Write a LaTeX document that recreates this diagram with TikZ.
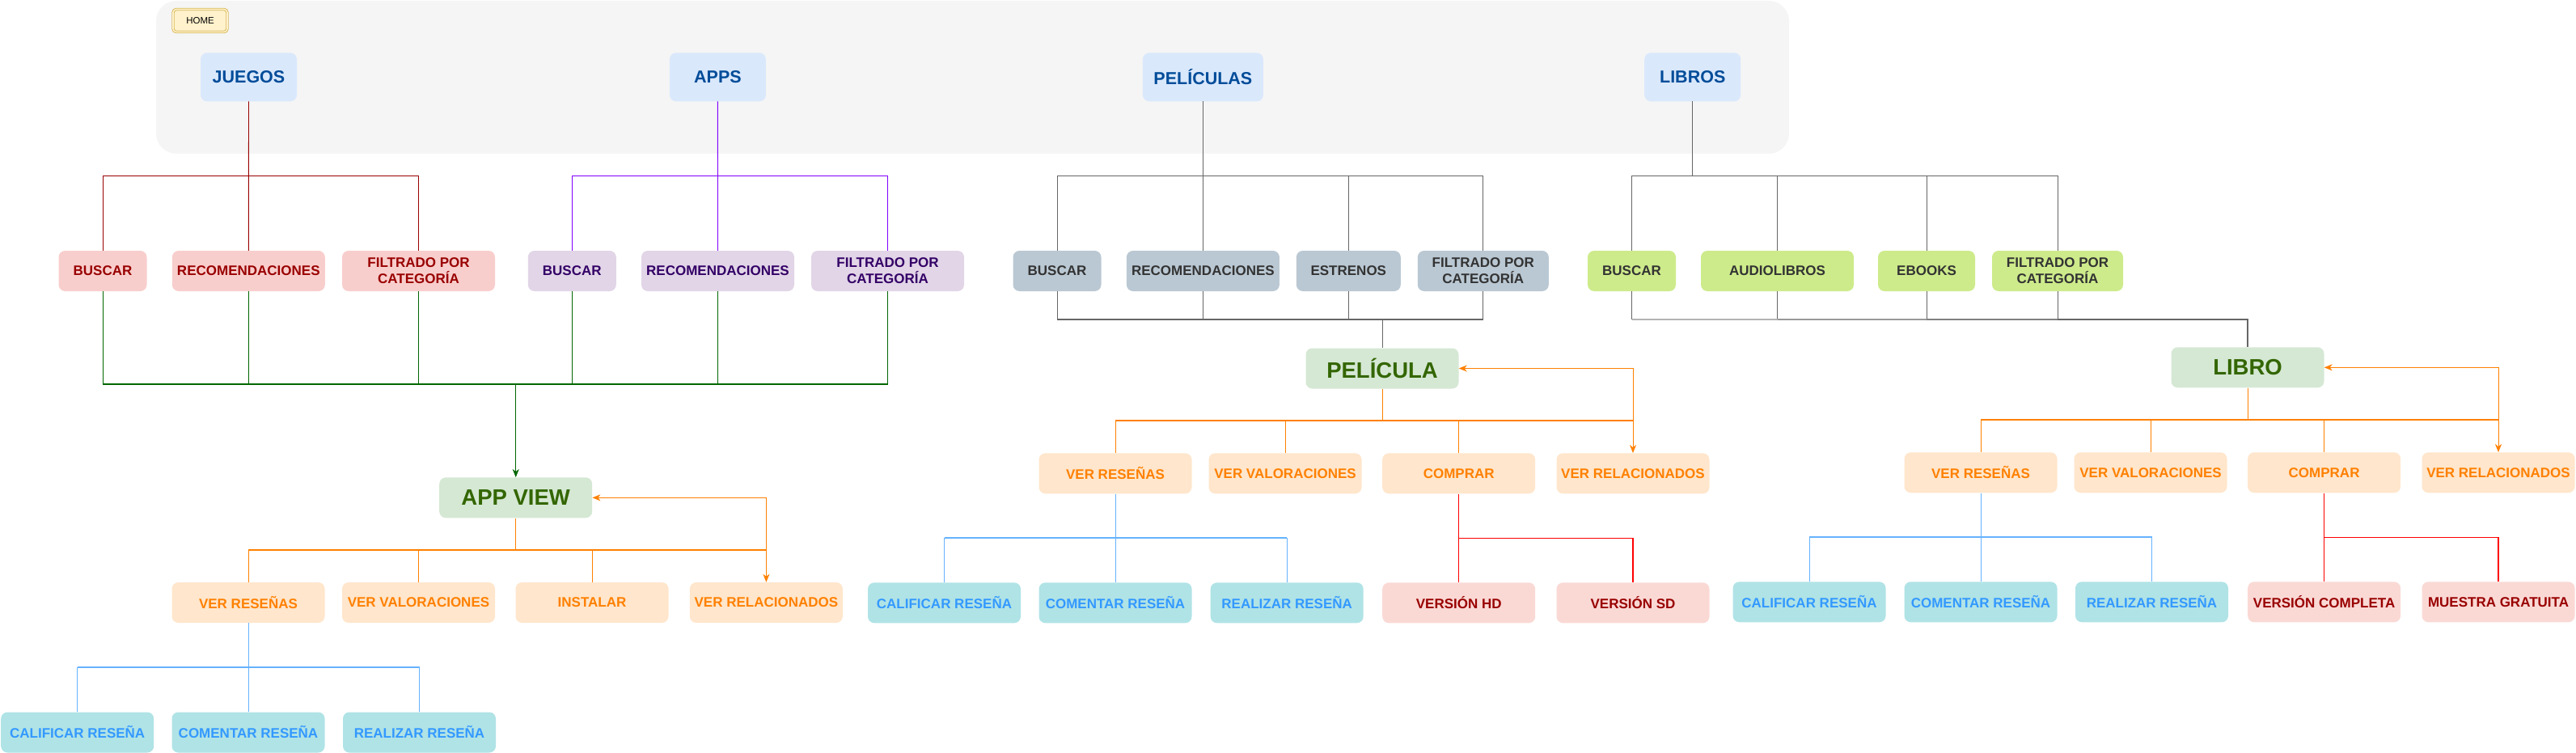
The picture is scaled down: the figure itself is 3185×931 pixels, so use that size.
\documentclass[tikz,border=0pt]{standalone}
\usepackage{fontspec}
\setmainfont{Liberation Sans}
\usetikzlibrary{arrows.meta}
\definecolor{panelF}{HTML}{F5F5F5}
\definecolor{homeF}{HTML}{FFF2CC}
\definecolor{homeD}{HTML}{D6B656}
\definecolor{topF}{HTML}{DAE8FC}
\definecolor{topT}{HTML}{004C99}
\definecolor{jF}{HTML}{F8CECC}
\definecolor{jT}{HTML}{990000}
\definecolor{jL}{HTML}{990000}
\definecolor{aF}{HTML}{E1D5E7}
\definecolor{aT}{HTML}{330066}
\definecolor{aL}{HTML}{7F00FF}
\definecolor{pF}{HTML}{BAC8D3}
\definecolor{pT}{HTML}{333333}
\definecolor{pL}{HTML}{666666}
\definecolor{lF}{HTML}{CDEB8B}
\definecolor{vF}{HTML}{D5E8D4}
\definecolor{vT}{HTML}{336600}
\definecolor{oF}{HTML}{FFE6CC}
\definecolor{oT}{HTML}{FF8000}
\definecolor{bF}{HTML}{B0E3E6}
\definecolor{bT}{HTML}{3399FF}
\definecolor{bL}{HTML}{66B2FF}
\definecolor{rF}{HTML}{FAD9D5}
\definecolor{rT}{HTML}{990000}
\definecolor{rL}{HTML}{FF0000}
\definecolor{gL}{HTML}{006600}
\definecolor{gray1}{HTML}{B3B3B3}
\definecolor{gray2}{HTML}{999999}
\definecolor{gray3}{HTML}{808080}
\begin{document}
\begin{tikzpicture}[x=1pt,y=-1pt,
  basebox/.style={rounded corners=8pt, inner sep=2pt, align=center, minimum width=189pt, minimum height=50pt,
    font=\bfseries\fontsize{17}{20}\selectfont},
  catbox/.style={basebox, fill=topF, text=topT, minimum width=119pt, minimum height=60pt,
    font=\bfseries\fontsize{21.5}{24}\selectfont},
  homebox/.style={rounded corners=4pt, draw=homeD, double=homeF, double distance=1.6pt, line width=0.9pt,
    fill=homeF, minimum width=67pt, minimum height=28pt, inner sep=1pt, font=\fontsize{11.5}{13}\selectfont},
  jbox/.style={basebox, fill=jF, text=jT},
  abox/.style={basebox, fill=aF, text=aT},
  pbox/.style={basebox, fill=pF, text=pT},
  lbox/.style={basebox, fill=lF, text=pT},
  viewbox/.style={basebox, fill=vF, text=vT, font=\bfseries\fontsize{27.5}{30}\selectfont},
  optbox/.style={basebox, fill=oF, text=oT},
  revbox/.style={basebox, fill=bF, text=bT},
  buybox/.style={basebox, fill=rF, text=rT},
  thinline/.style={line width=0.9pt},
  busw/.style={line width=1.8pt},
  jl/.style={thinline, draw=jL},
  al/.style={thinline, draw=aL},
  pl/.style={thinline, draw=pL},
  gl/.style={thinline, draw=gL},
  ol/.style={thinline, draw=oT},
  bl/.style={thinline, draw=bL},
  rl/.style={line width=1.3pt, draw=rL},
]
\useasboundingbox (0,0) rectangle (3185,931);
% panel
\fill[panelF, rounded corners=25pt] (193,1) rectangle (2212,190);

% nodes
\node[homebox] (home) at (247.5,25.5) {HOME};
\node[catbox] (juegos) at (307.5,95.3) {JUEGOS};
\node[catbox] (apps) at (887.4,95.3) {APPS};
\node[catbox, minimum width=149pt] (peliculas) at (1487.4,95.3) {PELÍCULAS};
\node[catbox] (libros) at (2092.7,95.3) {LIBROS};

\node[jbox, minimum width=109pt] (jbuscar) at (127,335) {BUSCAR};
\node[jbox] (jrec) at (307.3,335) {RECOMENDACIONES};
\node[jbox] (jfil) at (517.5,335) {FILTRADO POR\\CATEGORÍA};
\node[abox, minimum width=109pt] (abuscar) at (707.3,335) {BUSCAR};
\node[abox] (arec) at (887.5,335) {RECOMENDACIONES};
\node[abox] (afil) at (1097.5,335) {FILTRADO POR\\CATEGORÍA};
\node[pbox, minimum width=109pt] (pbuscar) at (1307,335) {BUSCAR};
\node[pbox] (prec) at (1487.4,335) {RECOMENDACIONES};
\node[pbox, minimum width=129pt] (pest) at (1667.3,335) {ESTRENOS};
\node[pbox, minimum width=162pt] (pfil) at (1833.8,335) {FILTRADO POR\\CATEGORÍA};
\node[lbox, minimum width=109pt] (lbuscar) at (2017.5,335) {BUSCAR};
\node[lbox] (laudio) at (2197.5,335) {AUDIOLIBROS};
\node[lbox, minimum width=120pt] (lebooks) at (2382,335) {EBOOKS};
\node[lbox, minimum width=162pt] (lfil) at (2544,335) {FILTRADO POR\\CATEGORÍA};

\node[viewbox] (appview) at (637.7,615.3) {APP VIEW};
\node[viewbox] (pelicula) at (1709,455.5) {PELÍCULA};
\node[viewbox] (libro) at (2779,454.3) {LIBRO};

\node[optbox] (aresenas) at (307,745) {VER RESEÑAS};
\node[optbox] (avalor) at (517.5,745) {VER VALORACIONES};
\node[optbox] (ainstalar) at (732,745) {INSTALAR};
\node[optbox] (arel) at (947.4,745) {VER RELACIONADOS};
\node[revbox] (acal) at (95.7,905.5) {CALIFICAR RESEÑA};
\node[revbox] (acom) at (307,905.5) {COMENTAR RESEÑA};
\node[revbox] (areal) at (518.5,905.5) {REALIZAR RESEÑA};

\node[optbox] (presenas) at (1379,585.3) {VER RESEÑAS};
\node[optbox] (pvalor) at (1589,585.3) {VER VALORACIONES};
\node[optbox] (pcomprar) at (1803.7,585.3) {COMPRAR};
\node[optbox] (prel) at (2019,585.3) {VER RELACIONADOS};
\node[revbox] (pcal) at (1167.5,745.3) {CALIFICAR RESEÑA};
\node[revbox] (pcom) at (1379,745.3) {COMENTAR RESEÑA};
\node[revbox] (preal) at (1591.2,745.3) {REALIZAR RESEÑA};
\node[buybox] (phd) at (1803.7,745.3) {VERSIÓN HD};
\node[buybox] (psd) at (2019,745.3) {VERSIÓN SD};

\node[optbox] (lresenas) at (2449,584.3) {VER RESEÑAS};
\node[optbox] (lvalor) at (2659,584.3) {VER VALORACIONES};
\node[optbox] (lcomprar) at (2873.6,584.3) {COMPRAR};
\node[optbox] (lrel) at (3089,584.3) {VER RELACIONADOS};
\node[revbox] (lcal) at (2237,744.3) {CALIFICAR RESEÑA};
\node[revbox] (lcom) at (2449,744.3) {COMENTAR RESEÑA};
\node[revbox] (lreal) at (2660.5,744.3) {REALIZAR RESEÑA};
\node[buybox] (lcomp) at (2873.6,744.3) {VERSIÓN COMPLETA};
\node[buybox] (lmuestra) at (3089,744.3) {MUESTRA GRATUITA};

% bus coordinates
\coordinate (tbus) at (0,217);
\coordinate (gbus) at (0,475);
\coordinate (pbus) at (0,395);
\coordinate (obusA) at (0,680);
\coordinate (bbusA) at (0,825);
\coordinate (obusP) at (0,520);
\coordinate (bbusP) at (0,665.3);
\coordinate (obusL) at (0,519);
\coordinate (bbusL) at (0,664.3);

% top level -> second row
\draw[jl] (juegos.south) -- (jrec.north);
\draw[jl] (jbuscar.north) |- (jfil.north |- tbus) -- (jfil.north);
\draw[al] (apps.south) -- (arec.north);
\draw[al] (abuscar.north) |- (afil.north |- tbus) -- (afil.north);
\draw[pl] (peliculas.south) -- (prec.north);
\draw[pl] (pbuscar.north) |- (pfil.north |- tbus) -- (pfil.north);
\draw[pl] (pest.north) -- (pest.north |- tbus);
\draw[pl] (libros.south) -- (libros.south |- tbus);
\draw[pl] (lbuscar.north) |- (lfil.north |- tbus) -- (lfil.north);
\draw[pl] (laudio.north) -- (laudio.north |- tbus);
\draw[pl] (lebooks.north) -- (lebooks.north |- tbus);

% juegos + apps -> app view
\foreach \n in {jbuscar,jrec,jfil,abuscar,arec,afil}
  \draw[gl] (\n.south) -- (\n.south |- gbus);
\draw[gl, busw] (jbuscar.south |- gbus) -- (afil.south |- gbus);
\draw[gl, -{Stealth[length=10pt,width=8pt,inset=3pt]}] (appview.north |- gbus) -- (appview.north);

% peliculas -> pelicula
\foreach \n in {pbuscar,prec,pest,pfil}
  \draw[pl] (\n.south) -- (\n.south |- pbus);
\draw[pl, busw] (pbuscar.south |- pbus) -- (pfil.south |- pbus);
\draw[pl] (pelicula.north |- pbus) -- (pelicula.north);

% libros -> libro
\foreach \n in {lbuscar,laudio,lebooks,lfil}
  \draw[pl] (\n.south) -- (\n.south |- pbus);
\draw[busw, draw=gray1] (lbuscar.south |- pbus) -- (laudio.south |- pbus);
\draw[busw, draw=gray2] (laudio.south |- pbus) -- (lebooks.south |- pbus);
\draw[busw, draw=gray3] (lebooks.south |- pbus) -- (lfil.south |- pbus);
\draw[busw, draw=pL] (lfil.south |- pbus) -| (libro.north);

% app view -> options
\draw[ol] (appview.south) -- (appview.south |- obusA);
\draw[ol, busw] (aresenas.north |- obusA) -- (arel.north |- obusA);
\foreach \n in {aresenas,avalor,ainstalar}
  \draw[ol] (\n.north) -- (\n.north |- obusA);
\draw[ol, {Stealth[length=10pt,width=8pt,inset=3pt]}-{Stealth[length=10pt,width=8pt,inset=3pt]}] (appview.east) -| (arel.north);
% app reviews
\draw[bl] (aresenas.south) -- (acom.north);
\draw[bl] (acal.north) -- (acal.north |- bbusA);
\draw[bl] (areal.north) -- (areal.north |- bbusA);
\draw[bl, busw] (acal.north |- bbusA) -- (areal.north |- bbusA);

% pelicula -> options
\draw[ol] (pelicula.south) -- (pelicula.south |- obusP);
\draw[ol, busw] (presenas.north |- obusP) -- (prel.north |- obusP);
\foreach \n in {presenas,pvalor,pcomprar}
  \draw[ol] (\n.north) -- (\n.north |- obusP);
\draw[ol, {Stealth[length=10pt,width=8pt,inset=3pt]}-{Stealth[length=10pt,width=8pt,inset=3pt]}] (pelicula.east) -| (prel.north);
\draw[bl] (presenas.south) -- (pcom.north);
\draw[bl] (pcal.north) -- (pcal.north |- bbusP);
\draw[bl] (preal.north) -- (preal.north |- bbusP);
\draw[bl, busw] (pcal.north |- bbusP) -- (preal.north |- bbusP);
\draw[rl] (pcomprar.south) -- (phd.north);
\draw[rl] (pcomprar.south |- bbusP) -| (psd.north);

% libro -> options
\draw[ol] (libro.south) -- (libro.south |- obusL);
\draw[ol, busw] (lresenas.north |- obusL) -- (lrel.north |- obusL);
\foreach \n in {lresenas,lvalor,lcomprar}
  \draw[ol] (\n.north) -- (\n.north |- obusL);
\draw[ol, {Stealth[length=10pt,width=8pt,inset=3pt]}-{Stealth[length=10pt,width=8pt,inset=3pt]}] (libro.east) -| (lrel.north);
\draw[bl] (lresenas.south) -- (lcom.north);
\draw[bl] (lcal.north) -- (lcal.north |- bbusL);
\draw[bl] (lreal.north) -- (lreal.north |- bbusL);
\draw[bl, busw] (lcal.north |- bbusL) -- (lreal.north |- bbusL);
\draw[rl] (lcomprar.south) -- (lcomp.north);
\draw[rl] (lcomprar.south |- bbusL) -| (lmuestra.north);
\end{tikzpicture}
\end{document}
